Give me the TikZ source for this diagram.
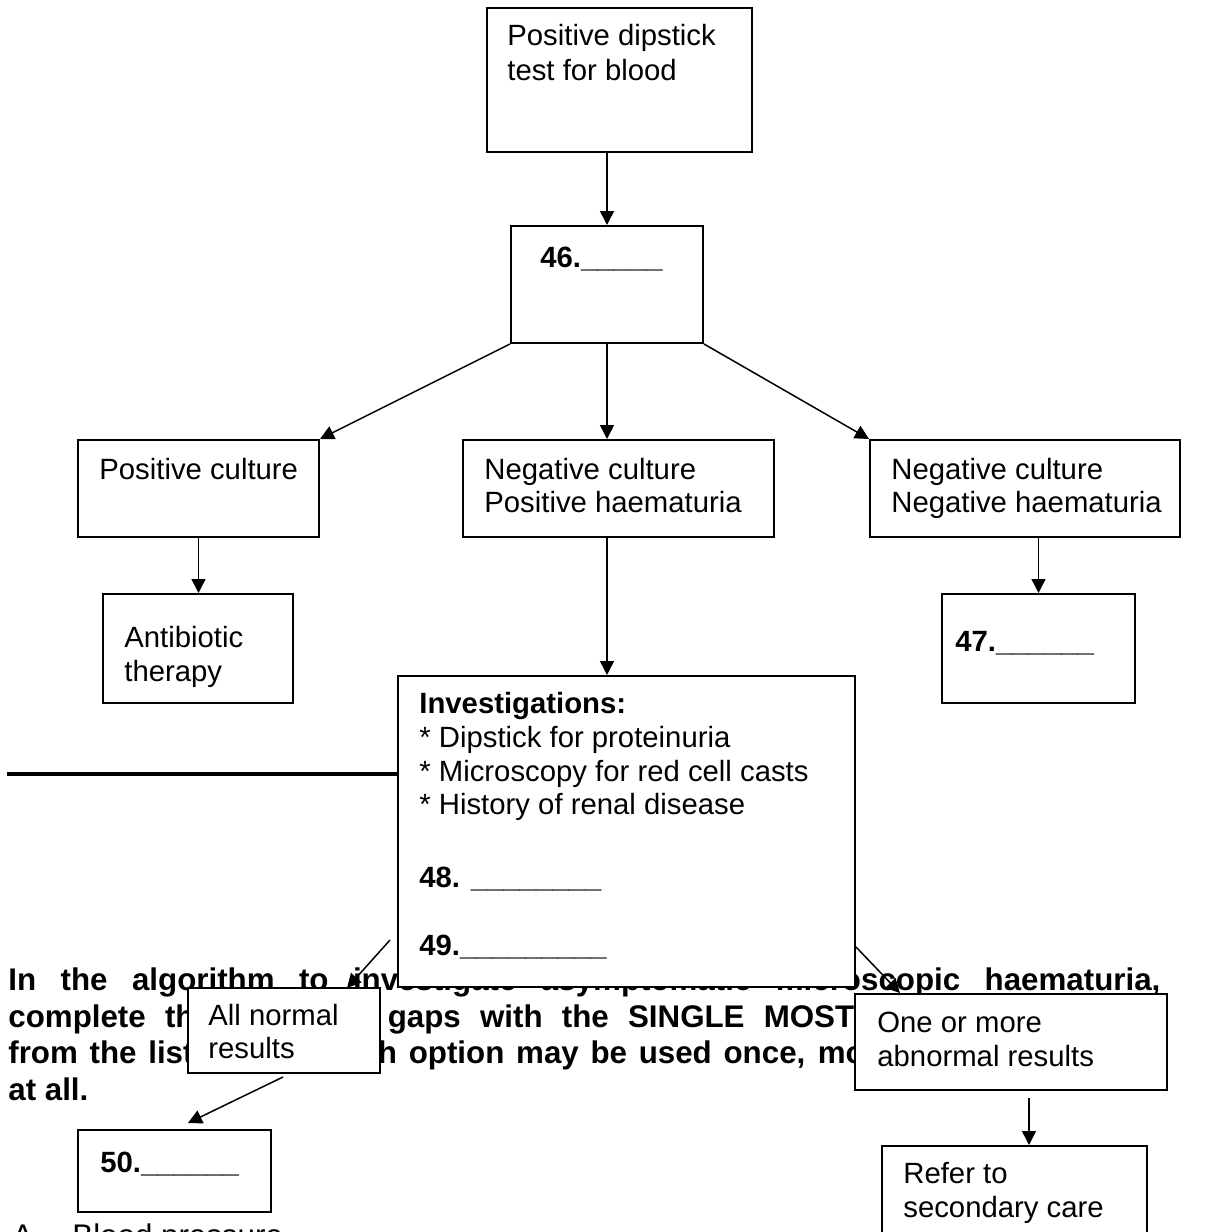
\documentclass[tikz,border=0pt]{standalone}
\usepackage{fontspec}
\setmainfont{Liberation Sans}
\usetikzlibrary{arrows.meta,fit}
\begin{document}
\begin{tikzpicture}[x=0.5pt,y=-0.5pt,
  box/.style={draw, line width=1pt, fill=white, inner sep=0pt, rectangle},
  arr/.style={line width=0.75pt, -{Triangle[length=7pt,width=7pt]}},
  txt/.style={anchor=base west, inner sep=0pt, font=\fontsize{14.65}{16.8}\selectfont},
  btxt/.style={anchor=base west, inner sep=0pt, font=\fontsize{14.65}{16.8}\selectfont\bfseries},
  head/.style={anchor=base west, inner sep=0pt, font=\fontsize{15.65}{18}\selectfont\bfseries},
  opt/.style={anchor=base west, inner sep=0pt, font=\fontsize{15.65}{18}\selectfont}]
\clip (0,0) rectangle (1207,1232);
% question text (partly hidden behind the boxes)
\node[head] (h1) at (8,990) {\makebox[576pt][s]{In the algorithm to investigate asymptomatic microscopic haematuria,}};
\node[head] (h2) at (8,1027) {\makebox[576pt][s]{complete the following gaps with the SINGLE MOST appropriate option}};
\node[head] (h3) at (8,1063) {\makebox[576pt][s]{from the list below. Each option may be used once, more than once or not}};
\node[head] (h4) at (8,1100) {at all.};
\node[opt] (oA) at (12,1246) {A.};
\node[opt] (oAt) at (72,1246) {Blood pressure};
% boxes
\node[box, fit={(487,8) (752,152)}] (top) {};
\node[box, fit={(511,226) (703,343)}] (b46) {};
\node[box, fit={(78,440) (319,537)}] (pc) {};
\node[box, fit={(463,440) (774,537)}] (nc1) {};
\node[box, fit={(870,440) (1180,537)}] (nc2) {};
\node[box, fit={(103,594) (293,703)}] (ab) {};
\node[box, fit={(942,594) (1135,703)}] (b47) {};
\node[box, fit={(398,676) (855,987)}] (inv) {};
\node[box, fit={(188,988) (380,1073)}] (alln) {};
\node[box, fit={(855,994) (1167,1090)}] (onem) {};
\node[box, fit={(78,1130) (271,1212)}] (b50) {};
\node[box, fit={(882,1146) (1147,1250)}] (refer) {};
% connectors
\draw[arr] (top.south -| 607,0) -- (b46.north -| 607,0);
\draw[arr] (b46.south west) -- (pc.north east);
\draw[arr] (b46.south -| 607,0) -- (nc1.north -| 607,0);
\draw[arr] (b46.south east) -- (nc2.north west);
\draw[arr] (pc.south) -- (pc.south |- ab.north);
\draw[arr] (nc1.south -| 607,0) -- (inv.north -| 607,0);
\draw[arr] (b47.north |- nc2.south) -- (b47.north);
\coordinate (lineL) at (7,774);
\draw[line width=1.6pt] (lineL) -- (lineL -| inv.west);
\coordinate (a1s) at (390,940);
\coordinate (a1e) at (347,988);
\draw[arr] (a1s) -- (a1e);
\coordinate (a2e) at (900,993);
\draw[arr] (inv.east |- 0,947) -- (a2e);
\coordinate (a3s) at (283,1077);
\coordinate (a3e) at (188,1123);
\draw[arr] (a3s) -- (a3e);
\coordinate (a4s) at (1029,1098);
\draw[arr] (a4s) -- (a4s |- refer.north);
% texts
\node[txt] (t1a) at (507,45) {Positive dipstick};
\node[txt] (t1b) at (507,80) {test for blood};
\node[btxt] (t46) at (540,267) {46.\_\_\_\_\_};
\node[txt] (tpc) at (99,479) {Positive culture};
\node[txt] (tn1a) at (484,479) {Negative culture};
\node[txt] (tn1b) at (484,512) {Positive haematuria};
\node[txt] (tn2a) at (891,479) {Negative culture};
\node[txt] (tn2b) at (891,512) {Negative haematuria};
\node[txt] (taba) at (124,647) {Antibiotic};
\node[txt] (tabb) at (124,681) {therapy};
\node[btxt] (t47) at (955,651) {47.\_\_\_\_\_\_};
\node[btxt] (ti0) at (419,713) {Investigations:};
\node[txt] (ti1) at (419,747) {* Dipstick for proteinuria};
\node[txt] (ti2) at (419,781) {* Microscopy for red cell casts};
\node[txt] (ti3) at (419,814) {* History of renal disease};
\node[btxt] (t48) at (419,887) {48. \_\_\_\_\_\_\_\_};
\node[btxt] (t49) at (419,955) {49.\_\_\_\_\_\_\_\_\_};
\node[txt] (tana) at (208,1025) {All normal};
\node[txt] (tanb) at (208,1058) {results};
\node[txt] (toma) at (877,1032) {One or more};
\node[txt] (tomb) at (877,1066) {abnormal results};
\node[btxt] (t50) at (100,1172) {50.\_\_\_\_\_\_};
\node[txt] (tra) at (903,1183) {Refer to};
\node[txt] (trb) at (903,1217) {secondary care};
\end{tikzpicture}
\end{document}
